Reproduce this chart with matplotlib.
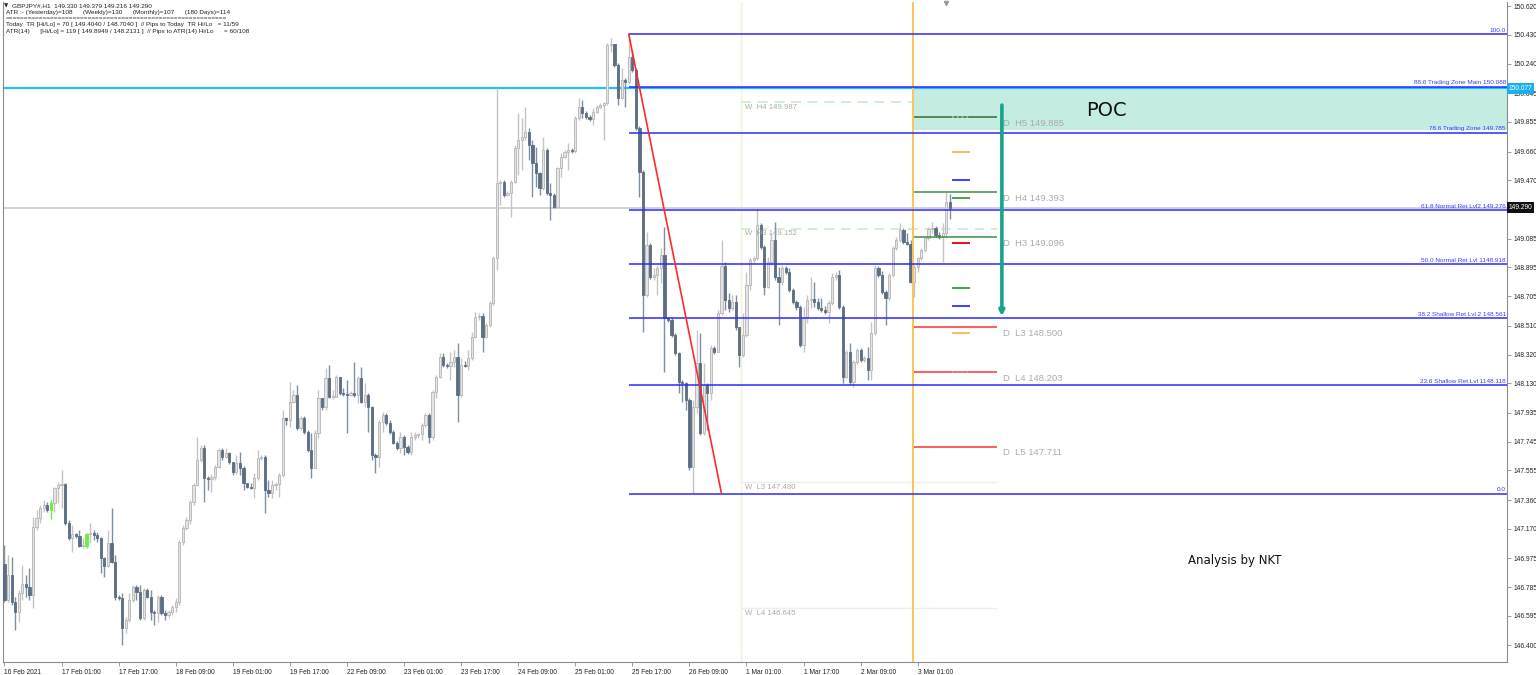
import numpy as np
import matplotlib.pyplot as plt
from matplotlib.transforms import blended_transform_factory

# GBPJPY H1 candles (open of each bar = previous close)
first_open = 146.938
close_prices = [
    146.700, 146.865, 146.687, 146.621, 146.746, 146.806, 146.786, 146.733, 147.182, 147.241,
    147.307, 147.327, 147.294, 147.340, 147.439, 147.459, 147.466, 147.208, 147.109, 147.136,
    147.122, 147.056, 147.056, 147.136, 147.142, 147.129, 147.109, 146.977, 146.924, 147.076,
    146.951, 146.720, 146.713, 146.515, 146.568, 146.700, 146.786, 146.753, 146.581, 146.766,
    146.720, 146.621, 146.614, 146.720, 146.614, 146.601, 146.621, 146.654, 146.687, 147.083,
    147.175, 147.228, 147.347, 147.459, 147.624, 147.703, 147.505, 147.499, 147.512, 147.578,
    147.690, 147.644, 147.670, 147.611, 147.545, 147.604, 147.571, 147.472, 147.446, 147.439,
    147.505, 147.637, 147.644, 147.426, 147.406, 147.459, 147.466, 147.525, 147.901, 147.888,
    148.007, 148.053, 147.835, 147.901, 147.809, 147.690, 147.571, 147.802, 148.033, 147.974,
    148.165, 148.040, 148.040, 148.172, 148.066, 148.060, 148.053, 148.066, 148.053, 148.165,
    148.007, 148.053, 147.974, 147.657, 147.644, 147.875, 147.921, 147.868, 147.809, 147.736,
    147.703, 147.776, 147.710, 147.677, 147.776, 147.789, 147.796, 147.855, 147.921, 147.776,
    148.073, 148.172, 148.304, 148.251, 148.244, 148.271, 148.304, 148.053, 148.251, 148.244,
    148.297, 148.436, 148.568, 148.574, 148.436, 148.515, 148.660, 148.957, 149.452, 149.459,
    149.373, 149.386, 149.459, 149.683, 149.736, 149.756, 149.789, 149.703, 149.584, 149.518,
    149.419, 149.670, 149.386, 149.373, 149.294, 149.551, 149.624, 149.657, 149.670, 149.663,
    149.881, 149.954, 149.914, 149.888, 149.875, 149.921, 149.954, 149.967, 149.980, 150.363,
    150.370, 150.231, 150.013, 150.132, 150.119, 150.284, 150.198, 149.815, 149.525, 148.713,
    149.043, 148.832, 148.845, 148.891, 148.977, 148.561, 148.548, 148.449, 148.330, 148.139,
    148.132, 148.020, 147.578, 147.974, 148.264, 147.802, 148.119, 148.066, 148.363, 148.337,
    148.594, 148.904, 148.680, 148.627, 148.667, 148.502, 148.317, 148.449, 148.779, 148.944,
    148.957, 149.175, 149.030, 148.766, 148.931, 149.076, 148.832, 148.799, 148.891, 148.865,
    148.746, 148.667, 148.634, 148.383, 148.561, 148.680, 148.687, 148.667, 148.627, 148.614,
    148.601, 148.660, 148.832, 148.845, 148.634, 148.172, 148.337, 148.139, 148.271, 148.350,
    148.284, 148.297, 148.218, 148.462, 148.891, 148.845, 148.733, 148.693, 148.845, 149.023,
    149.076, 149.142, 149.063, 149.050, 148.799, 148.898, 148.957, 149.010, 149.089, 149.149,
    149.155, 149.109, 149.096, 149.122, 149.330, 149.290,
]
high_prices = [
    147.063, 146.997, 146.984, 146.720, 146.766, 146.931, 146.865, 146.911, 147.248, 147.294,
    147.327, 147.360, 147.347, 147.360, 147.446, 147.479, 147.558, 147.472, 147.228, 147.195,
    147.142, 147.162, 147.109, 147.142, 147.208, 147.162, 147.149, 147.116, 146.984, 147.162,
    147.307, 146.997, 146.733, 146.746, 146.588, 146.746, 146.799, 146.799, 146.799, 146.779,
    146.779, 146.766, 146.634, 146.733, 146.733, 146.634, 146.634, 146.667, 146.713, 147.096,
    147.195, 147.248, 147.360, 147.472, 147.776, 147.723, 147.723, 147.518, 147.532, 147.591,
    147.703, 147.703, 147.703, 147.677, 147.611, 147.657, 147.677, 147.584, 147.472, 147.472,
    147.538, 147.690, 147.657, 147.657, 147.492, 147.492, 147.479, 147.538, 147.954, 147.908,
    148.139, 148.086, 148.119, 147.914, 147.914, 147.822, 147.802, 147.822, 148.086, 148.033,
    148.231, 148.251, 148.086, 148.185, 148.172, 148.099, 148.152, 148.079, 148.271, 148.178,
    148.238, 148.132, 148.066, 147.980, 147.670, 147.888, 147.941, 147.934, 147.888, 147.822,
    147.749, 147.809, 147.789, 147.723, 147.809, 147.809, 147.802, 147.868, 147.934, 147.934,
    148.086, 148.185, 148.330, 148.330, 148.264, 148.337, 148.350, 148.396, 148.297, 148.277,
    148.350, 148.469, 148.601, 148.594, 148.594, 148.528, 148.673, 148.970, 150.079, 149.472,
    149.472, 149.399, 149.472, 149.703, 149.914, 149.881, 149.954, 149.815, 149.736, 149.690,
    149.525, 149.756, 149.683, 149.452, 149.386, 149.558, 149.650, 149.670, 149.716, 149.683,
    149.894, 150.013, 150.000, 149.927, 149.901, 149.947, 149.967, 149.980, 149.987, 150.376,
    150.409, 150.343, 150.244, 150.211, 150.145, 150.436, 150.330, 150.211, 149.828, 149.538,
    149.129, 149.056, 148.891, 148.911, 149.023, 149.162, 148.568, 148.568, 148.462, 148.337,
    148.152, 148.139, 148.033, 148.020, 148.482, 148.462, 148.264, 148.132, 148.383, 148.376,
    148.614, 149.076, 148.931, 148.726, 148.713, 148.713, 148.449, 148.594, 148.865, 148.957,
    148.970, 149.287, 149.188, 149.043, 148.964, 149.122, 149.195, 148.898, 148.911, 148.904,
    148.891, 148.759, 148.680, 148.647, 148.634, 148.713, 148.832, 148.799, 148.693, 148.693,
    148.640, 148.680, 148.858, 148.865, 148.878, 148.647, 148.350, 148.396, 148.284, 148.363,
    148.363, 148.310, 148.370, 148.535, 148.911, 148.904, 148.871, 148.746, 148.858, 149.036,
    149.096, 149.188, 149.155, 149.122, 149.076, 148.911, 148.964, 149.023, 149.102, 149.162,
    149.195, 149.168, 149.129, 149.188, 149.393, 149.379,
]
low_prices = [
    146.687, 146.687, 146.667, 146.502, 146.555, 146.700, 146.720, 146.700, 146.647, 147.162,
    147.208, 147.281, 147.281, 147.235, 147.281, 147.340, 147.307, 147.195, 147.096, 147.017,
    147.109, 147.050, 147.043, 147.043, 147.076, 147.096, 147.083, 146.878, 146.852, 146.918,
    146.944, 146.700, 146.700, 146.403, 146.482, 146.555, 146.687, 146.700, 146.568, 146.568,
    146.713, 146.568, 146.535, 146.555, 146.601, 146.568, 146.581, 146.601, 146.621, 146.667,
    147.063, 147.162, 147.202, 147.327, 147.452, 147.611, 147.347, 147.426, 147.413, 147.492,
    147.571, 147.624, 147.637, 147.598, 147.525, 147.532, 147.525, 147.426, 147.439, 147.433,
    147.373, 147.492, 147.624, 147.274, 147.380, 147.373, 147.426, 147.380, 147.512, 147.855,
    147.842, 148.000, 147.822, 147.822, 147.796, 147.677, 147.505, 147.644, 147.769, 147.954,
    147.954, 148.033, 148.027, 148.053, 148.053, 148.046, 147.802, 148.046, 148.040, 148.000,
    148.000, 147.974, 147.809, 147.624, 147.538, 147.578, 147.809, 147.855, 147.796, 147.730,
    147.690, 147.670, 147.657, 147.664, 147.657, 147.756, 147.769, 147.756, 147.842, 147.736,
    147.756, 148.033, 148.165, 148.238, 148.231, 148.152, 148.238, 147.875, 148.040, 148.238,
    148.218, 148.284, 148.429, 148.548, 148.337, 148.429, 148.502, 148.647, 148.878, 149.307,
    149.360, 149.366, 149.228, 149.452, 149.505, 149.538, 149.736, 149.604, 149.360, 149.426,
    149.373, 149.406, 149.373, 149.208, 149.287, 149.287, 149.492, 149.617, 149.538, 149.650,
    149.650, 149.868, 149.881, 149.875, 149.861, 149.835, 149.914, 149.947, 149.736, 149.967,
    150.317, 150.218, 149.967, 150.007, 149.954, 150.106, 150.185, 149.802, 149.360, 148.469,
    148.700, 148.819, 148.812, 148.713, 148.792, 148.205, 148.535, 148.436, 148.317, 148.066,
    148.007, 147.954, 147.558, 147.406, 147.934, 147.789, 147.789, 147.822, 148.020, 148.324,
    148.337, 148.581, 148.614, 148.601, 148.614, 148.482, 148.238, 148.304, 148.436, 148.746,
    148.924, 148.944, 149.017, 148.713, 148.759, 148.911, 148.812, 148.515, 148.779, 148.852,
    148.733, 148.654, 148.614, 148.370, 148.337, 148.528, 148.627, 148.634, 148.614, 148.601,
    148.588, 148.528, 148.647, 148.812, 148.621, 148.132, 148.165, 148.119, 148.106, 148.258,
    148.271, 148.271, 148.152, 148.152, 148.449, 148.832, 148.720, 148.515, 148.680, 148.832,
    149.010, 149.063, 149.050, 149.043, 148.792, 148.700, 148.865, 148.944, 148.997, 149.076,
    149.122, 149.096, 149.083, 148.931, 149.089, 149.216,
]
green_bars = [13, 23]

date_labels = ['16 Feb 2021', '17 Feb 01:00', '17 Feb 17:00', '18 Feb 09:00', '19 Feb 01:00',
               '19 Feb 17:00', '22 Feb 09:00', '23 Feb 01:00', '23 Feb 17:00', '24 Feb 09:00',
               '25 Feb 01:00', '25 Feb 17:00', '26 Feb 09:00', '1 Mar 01:00', '1 Mar 17:00',
               '2 Mar 09:00', '3 Mar 01:00']
price_ticks = [150.620, 150.430, 150.240, 150.045, 149.855, 149.660, 149.470, 149.085,
               148.895, 148.705, 148.510, 148.320, 148.130, 147.935, 147.745, 147.555, 147.360,
               147.170, 146.975, 146.785, 146.595, 146.400]

# fibonacci retracement
fib_levels = [150.434, 150.088, 149.785, 149.276, 148.918, 148.561, 148.118, 147.403]
fib_labels = ['100.0', '88.6 Trading Zone Main 150.088', '78.6 Trading Zone 149.785',
              '61.8 Normal Ret Lvl2 149.276', '50.0 Normal Ret Lvl 1148.918',
              '38.2 Shallow Ret Lvl 2 148.561', '23.6 Shallow Ret Lvl 1148.118', '0.0']

# daily / weekly pivots
daily_levels = [149.885, 149.393, 149.096, 148.500, 148.203, 147.711]
daily_names = ['H5', 'H4', 'H3', 'L3', 'L4', 'L5']
daily_colors = ['#2f6f2f', '#3d8f3d', '#3d8f3d', '#ff3030', '#ff3030', '#ff3030']
weekly_levels = [149.987, 149.152, 147.480, 146.645]
weekly_names = ['H4', 'H3', 'L3', 'L4']
mini_levels = [149.888, 149.657, 149.472, 149.353, 149.056, 148.759, 148.640, 148.462, 148.205]
mini_colors = ['#b0b0b0', '#ffb347', '#3030ff', '#3d9a3d', '#e00000', '#3d9a3d', '#3030ff', '#ffb347', '#c8a0a0']

cyan_level = 150.077
bid = 149.290

close = np.array(close_prices)
opn = np.r_[first_open, close[:-1]]
high = np.maximum(np.array(high_prices), np.maximum(opn, close))
low = np.minimum(np.array(low_prices), np.minimum(opn, close))
x = np.arange(len(close))
bull = close >= opn

body_col = np.where(bull, '#e4e4e4', '#5b6e83').astype(object)
edge_col = np.where(bull, '#b5b5b5', '#5b6e83').astype(object)
wick_col = np.where(bull, '#c4c4c4', '#7f8fa2').astype(object)
for g in green_bars:
    body_col[g] = edge_col[g] = wick_col[g] = '#66ee44'

fig = plt.figure(figsize=(15.36, 6.75), dpi=100)
ax = fig.add_axes([3/1536, 13/675, 1504/1536, 660/675])
xmax = 421.2
ax.set_xlim(-0.42, xmax)
ax.set_ylim(146.291, 150.647)

# background objects
ax.axvline(206.5, color='#f2f2d2', lw=1, zorder=0)
ax.fill_between([254.7, xmax], 149.805, cyan_level, color='#c4ece2', lw=0, zorder=0)
ax.axhline(bid, color='#cfcfcf', lw=1.3, zorder=1)
ax.axhline(cyan_level, color='#1ec0f5', lw=1.6, zorder=1)

# candles
ax.vlines(x, low, high, colors=list(wick_col), lw=1, zorder=2)
ax.bar(x, np.maximum(np.abs(close - opn), 0.004), bottom=np.minimum(opn, close), width=0.62,
       color=list(body_col), edgecolor=list(edge_col), linewidth=0.6, zorder=3)

# fib lines
ax.hlines(fib_levels, 175, xmax, colors='#2a2aff', lw=1.1, zorder=4)
for lv, lb in zip(fib_levels, fib_labels):
    ax.text(xmax - 0.3, lv + 0.008, lb, ha='right', va='bottom', fontsize=4.6,
            color='#3a3aff', family='Liberation Sans', zorder=5)
ax.plot([175, 201], [fib_levels[0], fib_levels[-1]], color='#ff2a2a', lw=1.2, zorder=4)

# weekly pivots
for lv, nm in zip(weekly_levels, weekly_names):
    if nm.startswith('H'):
        ax.hlines(lv, 206.5, 278.2, colors='#c6efc6', lw=1.2, linestyles=(0, (6, 4)), zorder=1)
    else:
        ax.hlines(lv, 206.5, 278.2, colors='#eeeeee', lw=1, zorder=1)
    ax.text(207.6, lv - 0.012, f'W  {nm} {lv:.3f}', ha='left', va='top', fontsize=5.6,
            color='#ababab', family='Liberation Sans', zorder=5)

# daily pivots
ax.axvline(254.7, color='#ffc25a', lw=1.4, zorder=3)
for lv, nm, col in zip(daily_levels, daily_names, daily_colors):
    ax.hlines(lv, 254.9, 278.2, colors=col, lw=1.1, zorder=4)
    ax.text(279.9, lv - 0.010, f'D  {nm} {lv:.3f}', ha='left', va='top', fontsize=6.8,
            color='#ababab', family='Liberation Sans', zorder=5)
for lv, col in zip(mini_levels, mini_colors):
    ls = ':' if col in ('#b0b0b0', '#c8a0a0') else '-'
    ax.hlines(lv, 265.6, 270.6, colors=col, lw=1.3, linestyles=ls, zorder=4)

ax.annotate('', xy=(279.6, 148.555), xytext=(279.6, 149.985),
            arrowprops=dict(arrowstyle='-|>', color='#17a589', lw=2.6, mutation_scale=7),
            zorder=6)
ax.text(309, 149.93, 'POC', fontsize=14, color='#111111', family='DejaVu Sans', ha='center', va='center')
ax.text(345, 146.96, 'Analysis by NKT', fontsize=8.5, color='#111111', family='DejaVu Sans',
        ha='center', va='center')

# axes styling
for s in ['left', 'bottom', 'right']:
    ax.spines[s].set_color('#8c8c8c')
ax.spines['top'].set_visible(False)
ax.yaxis.tick_right()
ax.set_yticks(price_ticks)
ax.set_yticklabels([f'{t:.3f}' for t in price_ticks])
ax.set_xticks(np.arange(len(date_labels)) * 16)
ax.set_xticklabels(date_labels, ha='left')
ax.tick_params(axis='both', labelsize=4.8, length=3, width=0.6, color='#8c8c8c', labelcolor='#222222', pad=2)
for lab in ax.get_xticklabels() + ax.get_yticklabels():
    lab.set_family('Liberation Sans')

tr = blended_transform_factory(ax.transAxes, ax.transData)
ax.text(1.0012, cyan_level, '150.077', transform=tr, fontsize=4.8, color='white', va='center',
        family='Liberation Sans', bbox=dict(facecolor='#1ab0ee', edgecolor='none', pad=1.4), zorder=10, clip_on=False)
ax.text(1.0012, bid, '149.290', transform=tr, fontsize=4.8, color='white', va='center',
        family='Liberation Sans', bbox=dict(facecolor='#111111', edgecolor='none', pad=1.4), zorder=10, clip_on=False)
ax.plot([264], [150.64], marker='v', color='#9a9a9a', markersize=3, clip_on=False)

# header block
header = ['GBPJPY#,H1  149.330 149.379 149.216 149.290',
          'ATR :- (Yesterday)=108      (Weekly)=130      (Monthly)=107      (180 Days)=114',
          '===========================================================',
          'Today  TR [Hi/Lo] = 70 [ 149.4040 / 148.7040 ]  // Pips to Today  TR Hi/Lo   = 11/59',
          'ATR(14)      [Hi/Lo] = 119 [ 149.8949 / 148.2131 ]  // Pips to ATR(14) Hi/Lo      = 60/108']
fig.text(4/1536, 1 - 6/675, '\u25bc', fontsize=4, color='#333333', va='center')
for k, line in enumerate(header):
    fig.text((12 if k == 0 else 6)/1536, 1 - (6 + k*6.3)/675, line, fontsize=4.6,
             family='Liberation Sans', color='#222222', va='center')

fig.savefig('out.png', dpi=100)
